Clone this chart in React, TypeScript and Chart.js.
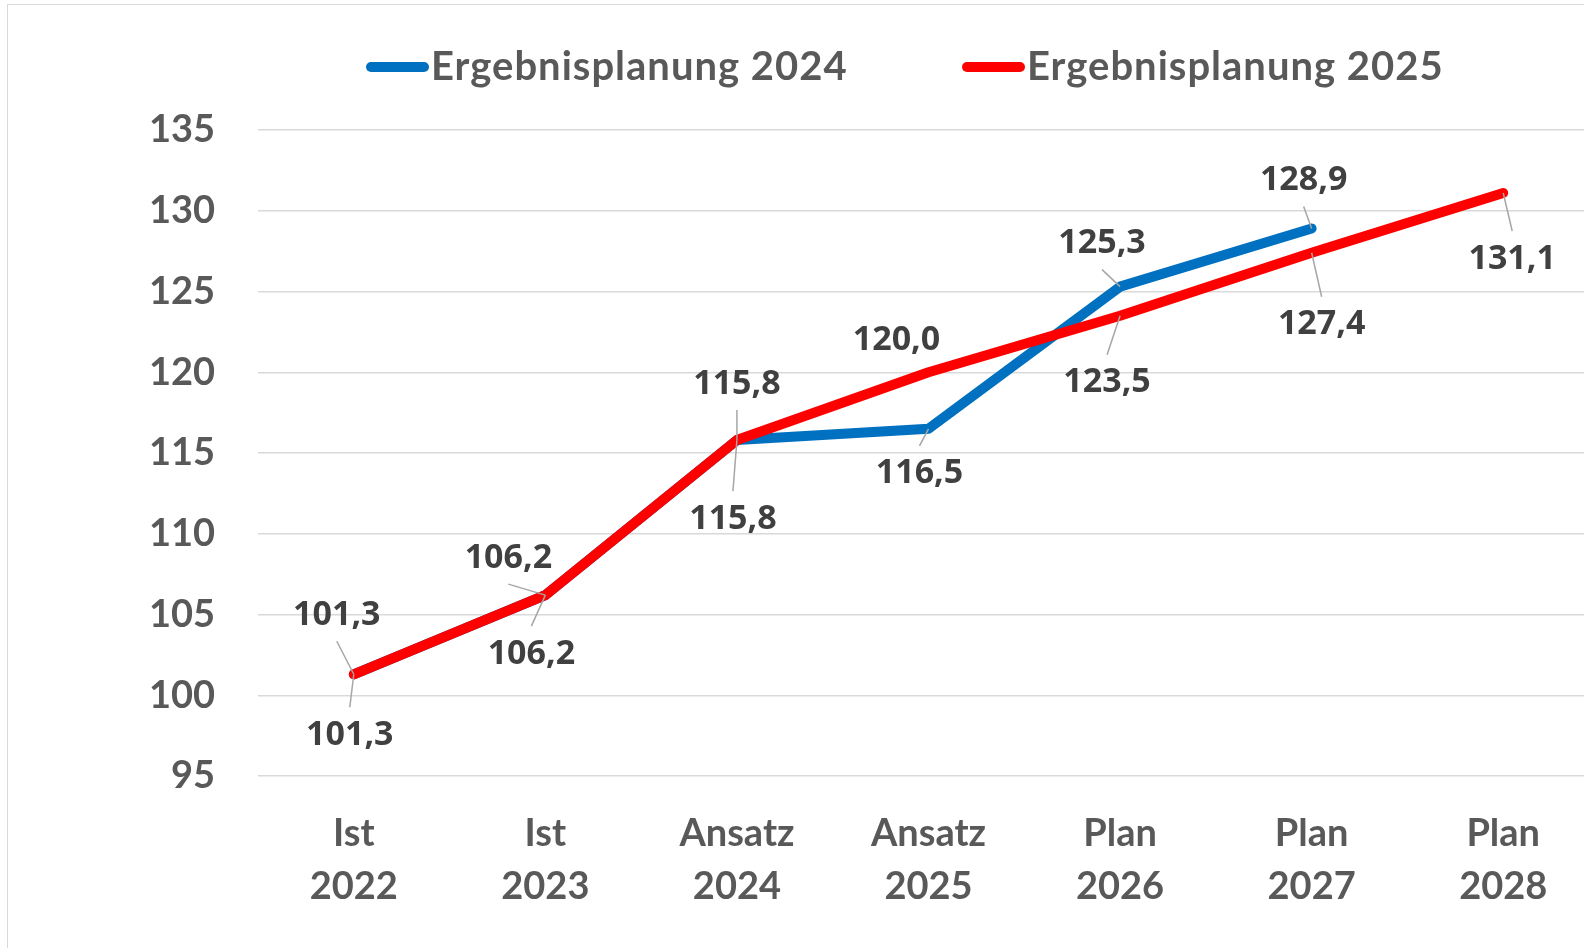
import React, { useEffect, useRef } from 'react';
import { Chart, registerables } from 'chart.js';
Chart.register(...registerables);

// ---- data ----
const categories: string[][] = [
  ['Ist', '2022'],
  ['Ist', '2023'],
  ['Ansatz', '2024'],
  ['Ansatz', '2025'],
  ['Plan', '2026'],
  ['Plan', '2027'],
  ['Plan', '2028'],
];
const seriesNames = ['Ergebnisplanung 2024', 'Ergebnisplanung 2025'];
const plan2024: (number | null)[] = [101.3, 106.2, 115.8, 116.5, 125.3, 128.9, null];
const plan2025: number[] = [101.3, 106.2, 115.8, 120.0, 123.5, 127.4, 131.1];
const yMin = 95;
const yMax = 135;
const yStep = 5;

// ---- style: label placement (dx, dy from point in px; leader line shown) ----
const labelPlace2024: ([number, number, boolean] | null)[] = [
  [-17, -60, true], [-37, -38, true], [-4, 78, true], [-9, 44, true], [-18, -44, true], [-8, -49, true], null,
];
const labelPlace2025: ([number, number, boolean] | null)[] = [
  [-4, 60, true], [-14, 58, true], [0, -57, true], [-32, -33, false], [-13, 66, true], [10, 71, true], [9, 65, true],
];

const BLUE = '#0070C0';
const RED = '#FF0000';
const AXIS_TEXT = '#595959';
const LABEL_TEXT = '#404040';
const GRID = '#d9d9d9';
const AXIS_FONT = 'Lato';
const LABEL_FONT = '"Open Sans"';
const LINE_W = 10;

const fmt = (v: number) => v.toFixed(1).replace('.', ',');

const labelsPlugin = {
  id: 'customLabels',
  afterDatasetsDraw(chart: any) {
    const ctx = chart.ctx;
    ctx.save();
    ctx.font = `bold 34px ${LABEL_FONT}`;
    ctx.textAlign = 'center';
    ctx.textBaseline = 'middle';
    chart.data.datasets.forEach((ds: any, di: number) => {
      const meta = chart.getDatasetMeta(di);
      const places = ds.label === seriesNames[0] ? labelPlace2024 : labelPlace2025;
      ds.data.forEach((v: number | null, j: number) => {
        const p = places[j];
        if (v == null || !p) return;
        const el = meta.data[j];
        const px = el.x, py = el.y;
        const cx = px + p[0], cy = py + p[1];
        if (p[2]) {
          const ey = p[1] < 0 ? cy + 27 : cy - 27;
          ctx.strokeStyle = '#a6a6a6';
          ctx.lineWidth = 1.5;
          ctx.beginPath();
          ctx.moveTo(px, py);
          ctx.lineTo(cx, ey);
          ctx.stroke();
        }
        ctx.fillStyle = LABEL_TEXT;
        ctx.fillText(fmt(v), cx, cy + 1);
      });
    });
    ctx.restore();
  },
};

const legendPlugin = {
  id: 'customLegend',
  afterDraw(chart: any) {
    const ctx = chart.ctx;
    const items = [
      { x0: 366, x1: 429, color: BLUE, text: seriesNames[0] },
      { x0: 962, x1: 1025, color: RED, text: seriesNames[1] },
    ];
    const y = 67;
    ctx.save();
    ctx.font = `bold 40px ${AXIS_FONT}`;
    try { (ctx as any).letterSpacing = '1px'; } catch (e) {}
    ctx.textAlign = 'left';
    ctx.textBaseline = 'middle';
    items.forEach((it) => {
      ctx.strokeStyle = it.color;
      ctx.lineWidth = LINE_W;
      ctx.lineCap = 'round';
      ctx.beginPath();
      ctx.moveTo(it.x0 + 5, y);
      ctx.lineTo(it.x1 - 5, y);
      ctx.stroke();
      ctx.fillStyle = AXIS_TEXT;
      ctx.fillText(it.text, it.x1 + 2, y);
    });
    ctx.restore();
  },
};

export default function App() {
  const canvasRef = useRef<HTMLCanvasElement | null>(null);

  useEffect(() => {
    if (!canvasRef.current) return;
    const chart = new Chart(canvasRef.current, {
      type: 'line',
      data: {
        labels: categories,
        datasets: [
          {
            label: seriesNames[1],
            data: plan2025,
            borderColor: RED,
            backgroundColor: RED,
            borderWidth: LINE_W,
            pointRadius: 0,
            borderCapStyle: 'round',
            borderJoinStyle: 'round',
            tension: 0,
            order: 0,
          },
          {
            label: seriesNames[0],
            data: plan2024,
            borderColor: BLUE,
            backgroundColor: BLUE,
            borderWidth: LINE_W,
            pointRadius: 0,
            borderCapStyle: 'round',
            borderJoinStyle: 'round',
            tension: 0,
            spanGaps: false,
            order: 1,
          },
        ],
      } as any,
      options: {
        animation: false,
        responsive: false,
        devicePixelRatio: 1,
        layout: { padding: { top: 130, right: 21, left: 0, bottom: 0 } },
        plugins: {
          legend: { display: false },
          tooltip: { enabled: false },
        },
        scales: {
          x: {
            type: 'category',
            offset: true,
            grid: { display: false, drawTicks: false },
            border: { display: false },
            ticks: {
              color: AXIS_TEXT,
              font: { family: AXIS_FONT, weight: 'bold', size: 38, lineHeight: 1.395 },
              padding: 31,
              maxRotation: 0,
              autoSkip: false,
            },
            afterFit: (scale: any) => {
              scale.height = 172;
            },
          },
          y: {
            min: yMin,
            max: yMax,
            grid: { color: GRID, lineWidth: 1.5, drawTicks: false },
            border: { display: false },
            ticks: {
              stepSize: yStep,
              color: AXIS_TEXT,
              font: { family: AXIS_FONT, weight: 'bold', size: 38 },
              padding: 43,
            },
            afterFit: (scale: any) => {
              scale.width = 258;
            },
          },
        },
      } as any,
      plugins: [labelsPlugin, legendPlugin],
    });
    return () => chart.destroy();
  }, []);

  return (
    <div
      style={{
        position: 'fixed',
        left: 0,
        top: 0,
        width: 1584,
        height: 948,
        overflow: 'hidden',
        background: '#ffffff',
      }}
    >
      <div
        style={{
          position: 'absolute',
          left: 7,
          top: 4,
          width: 2000,
          height: 2000,
          border: '1.5px solid #d9d9d9',
          boxSizing: 'border-box',
        }}
      />
      <canvas
        ref={canvasRef}
        width={1620}
        height={948}
        style={{ position: 'absolute', left: 0, top: 0, width: 1620, height: 948 }}
      />
    </div>
  );
}
